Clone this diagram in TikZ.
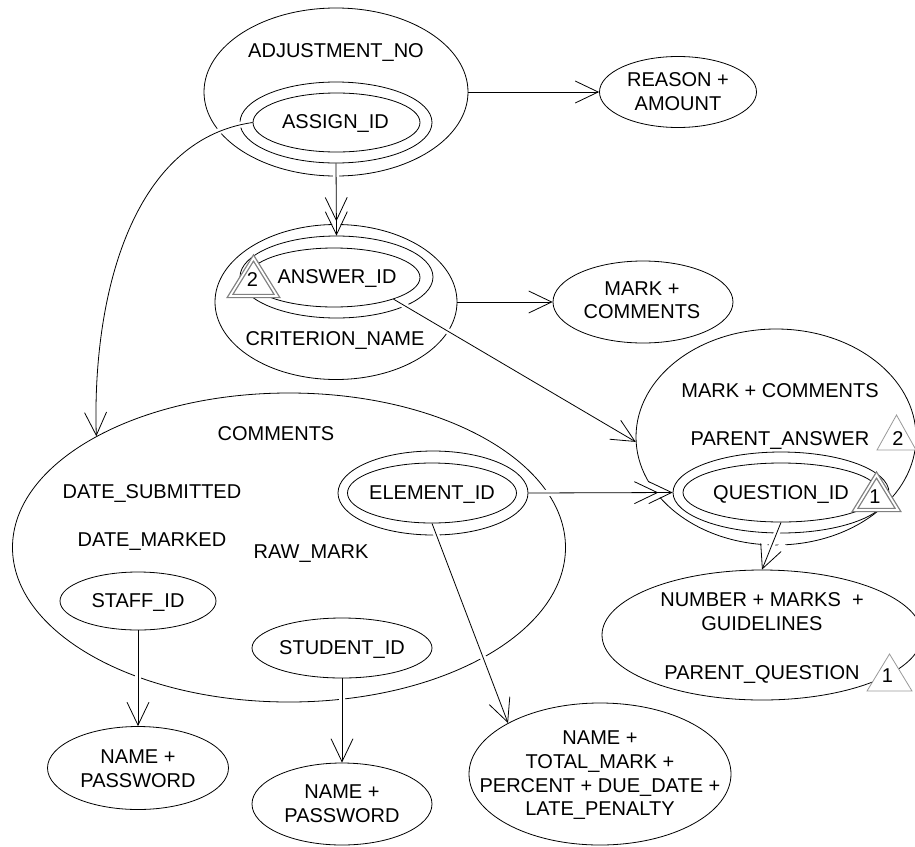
\documentclass[tikz,border=0pt]{standalone}
\usepackage{fontspec}
\setmainfont{Liberation Sans}
\usetikzlibrary{arrows.meta,shapes.geometric}
\begin{document}
\begin{tikzpicture}[x=1pt,y=-1pt,
  ell/.style={draw, ellipse, inner sep=0pt, line width=0.8pt},
  lbl/.style={inner sep=0pt, anchor=base, font=\fontsize{20}{23.7}\selectfont},
  mlbl/.style={inner sep=0pt, anchor=north, align=center, font=\fontsize{20}{23.7}\selectfont},
  conn/.style={line width=0.8pt, preaction={draw=white, line width=6pt, shorten <=2pt, shorten >=2.5pt}},
  one/.style={-{Straight Barb[length=23pt,width=22pt]}},
  many/.style={-{Straight Barb[length=23pt,width=22pt,sep=-10pt]Straight Barb[length=23pt,width=22pt]}},
  trisgl/.style={draw=black!40, line width=0.8pt, fill=white},
  tridbl/.style={draw=black!50, double=white, double distance=1.8pt, line width=1.3pt, fill=white},
  num/.style={inner sep=0pt, anchor=base, font=\fontsize{20}{23.7}\selectfont},
]
\useasboundingbox (0,0) rectangle (915,846);
\clip (0,0) rectangle (915,846);
\fill[white] (0,0) rectangle (915,846);

% ellipses
\node[ell, minimum width=264pt, minimum height=168pt] (adj) at (336,92) {};
\node[ell, minimum width=192pt, minimum height=81pt] (asring) at (336,122.5) {};
\node[ell, minimum width=167pt, minimum height=59pt] (asin) at (336.5,122.5) {};
\node[ell, minimum width=157pt, minimum height=71pt] (reason) at (678,92) {};
\node[ell, minimum width=242pt, minimum height=155pt] (crit) at (336,302) {};
\node[ell, minimum width=193pt, minimum height=82pt] (ansring) at (336.5,277) {};
\node[ell, minimum width=172pt, minimum height=59pt] (ansin) at (334,277.5) {};
\node[ell, minimum width=180pt, minimum height=82pt] (marks) at (643,302) {};
\node[ell, minimum width=280pt, minimum height=216pt] (qbig) at (776,437) {};
\node[ell, minimum width=216pt, minimum height=81pt] (qring) at (781,492.5) {};
\node[ell, minimum width=196pt, minimum height=59pt] (qin) at (781,492.5) {};
\node[ell, minimum width=320pt, minimum height=130pt] (number) at (762,635) {};
\node[ell, minimum width=553pt, minimum height=309pt] (comments) at (289,547.5) {};
\node[ell, minimum width=190pt, minimum height=84pt] (elring) at (433,493) {};
\node[ell, minimum width=169pt, minimum height=60pt] (elin) at (432,493) {};
\node[ell, minimum width=156pt, minimum height=58pt] (staff) at (138,601) {};
\node[ell, minimum width=180pt, minimum height=60pt] (student) at (342,648) {};
\node[ell, minimum width=181pt, minimum height=83pt] (name1) at (138,768) {};
\node[ell, minimum width=180pt, minimum height=82pt] (name2) at (342,804) {};
\node[ell, minimum width=262pt, minimum height=142pt] (total) at (600,774) {};

% connectors
\draw[conn, many] (asring.south) -- (ansring.north);
\draw[conn, one] (asin.west) .. controls (130,140) and (92,300) .. (comments.150);
\draw[conn, one] (adj.east) -- (reason.west);
\draw[conn, one] (crit.east) -- (marks.west);
\draw[conn, one] (ansin.-20) -- (qbig.182);
\draw[conn, many] (elring.east) -- (qring.west);
\draw[conn, one] (elin.south) -- (total.151);
\draw[conn, one] (staff.south) -- (name1.north);
\draw[conn, one] (student.south) -- (name2.north);
\draw[conn, one] (qin.south) -- (number.north);

% triangles
\draw[tridbl] (230,296) -- (253.5,258) -- (277,296) -- cycle;
\draw[trisgl] (877,450) -- (896.5,415) -- (916,450) -- cycle;
\draw[tridbl] (855,510) -- (876.5,475) -- (898,510) -- cycle;
\draw[trisgl] (867,691) -- (889.5,654) -- (912,691) -- cycle;
\node[num] (n2a) at (252.5,286.2) {2};
\node[num] (n2b) at (898,445.7) {2};
\node[num] (n1a) at (875,503.7) {1};
\node[num] (n1b) at (887.5,682.2) {1};

% labels
\node[lbl] (tadj) at (336,57.5) {ADJUSTMENT\_NO};
\node[lbl] (tassign) at (335.5,128.7) {ASSIGN\_ID};
\node[mlbl] (treason) at (678,72.3) {REASON +\\AMOUNT};
\node[lbl] (tanswer) at (337,283.7) {ANSWER\_ID};
\node[lbl] (tcrit) at (335,345.7) {CRITERION\_NAME};
\node[mlbl] (tmark) at (642,281.3) {MARK +\\COMMENTS};
\node[lbl] (tcomm) at (276,440.2) {COMMENTS};
\node[lbl] (tdsub) at (152,498.2) {DATE\_SUBMITTED};
\node[lbl] (tdmark) at (152,546.2) {DATE\_MARKED};
\node[lbl] (traw) at (311,558.2) {RAW\_MARK};
\node[lbl] (telem) at (432,499.2) {ELEMENT\_ID};
\node[lbl] (tstaff) at (138,607.2) {STAFF\_ID};
\node[lbl] (tstud) at (342,654.2) {STUDENT\_ID};
\node[mlbl] (tname1) at (138,749.8) {NAME +\\PASSWORD};
\node[mlbl] (tname2) at (342,784.8) {NAME +\\PASSWORD};
\node[mlbl] (ttotal) at (600,730.8) {NAME +\\TOTAL\_MARK +\\PERCENT + DUE\_DATE +\\LATE\_PENALTY};
\node[lbl] (tqmc) at (780,397.2) {MARK + COMMENTS};
\node[lbl] (tpa) at (780,445.2) {PARENT\_ANSWER};
\node[lbl] (tqid) at (781,499.2) {QUESTION\_ID};
\node[mlbl] (tnum) at (762,592.8) {NUMBER + MARKS~ +\\GUIDELINES};
\node[lbl] (tpq) at (762,679.2) {PARENT\_QUESTION};
\end{tikzpicture}
\end{document}
